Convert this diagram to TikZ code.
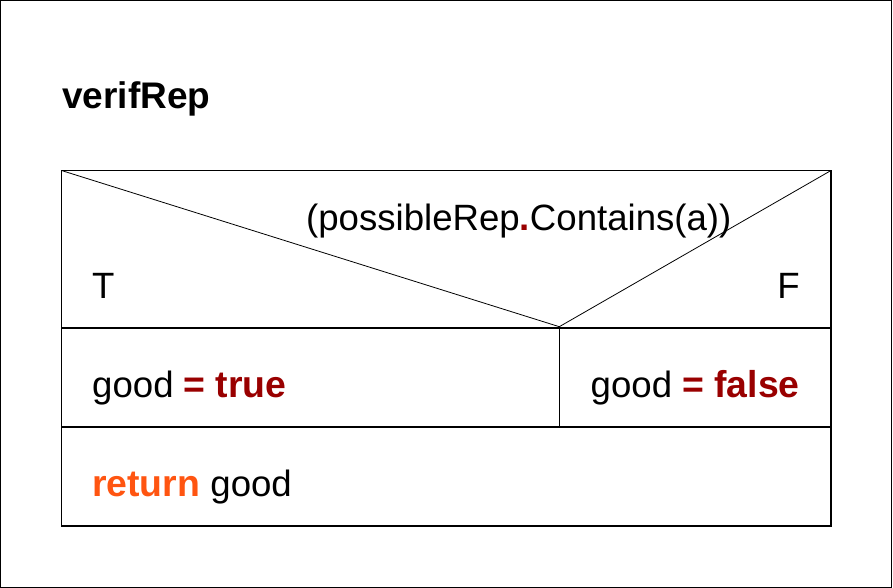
\documentclass[tikz,border=0pt]{standalone}
\usepackage{fontspec}
\setmainfont{Liberation Sans}
\usepackage{tikz}
\usetikzlibrary{arrows}

\definecolor{kwred}{RGB}{153,0,0}
\definecolor{kworange}{RGB}{255,85,17}

\begin{document}
\begin{tikzpicture}[x=1pt,y=-1pt]

	\tikzstyle frame lines=[line width=1.3pt];
	\tikzstyle table lines=[line width=1.3pt];
	\tikzstyle split lines=[line width=0.8pt];
	\tikzstyle cell text=[anchor=base west, inner sep=0pt, font=\fontsize{36.6}{40}\selectfont];
	\tikzstyle keyword=[font=\fontsize{37.2}{40}\selectfont\bfseries];

	\useasboundingbox (0,0) rectangle (893,588);
	\draw[frame lines] (0.7,0.7) rectangle (891.8,587.2);

	\node[cell text, font=\fontsize{37}{40}\selectfont\bfseries] (title) at (62,109) {verifRep};

	% corners of the structogram
	\coordinate (tl) at (61.5,170.5);
	\coordinate (tr) at (831,170.5);
	\coordinate (bl) at (61.5,526);
	\coordinate (br) at (831,526);
	\coordinate (apex) at (559.3,326.7);
	\foreach \y/\name in {328/one,427/two}{
		\coordinate (row \name\space left) at (61.5,\y);
		\coordinate (row \name\space right) at (831,\y);
		\coordinate (row \name\space mid) at (559.3,\y);
	}

	\draw[table lines] (tl) -- (tr) -- (br) -- (bl) -- cycle;
	\draw[table lines] (row one left) -- (row one right);
	\draw[table lines] (row two left) -- (row two right);
	\draw[table lines] (row one mid) -- (row two mid);
	\draw[split lines] (tl) -- (apex) -- (tr);

	\node[cell text] (cond) at (306,230) {(possibleRep{\color{kwred}\bfseries .}Contains(a))};
	\node[cell text] (yes) at (92,298) {T};
	\node[cell text, anchor=base east] (no) at (800,298) {F};

	\node[cell text] (thenpart) at (92,397) {good {\fontsize{37.4}{40}\selectfont\color{kwred}\bfseries = true}};
	\node[cell text, anchor=base east] (elsepart) at (800,397) {good {\fontsize{37.4}{40}\selectfont\color{kwred}\bfseries = false}};
	\node[cell text] (ret) at (92,496) {{\fontsize{37.4}{40}\selectfont\color{kworange}\bfseries return} good};

\end{tikzpicture}
\end{document}
